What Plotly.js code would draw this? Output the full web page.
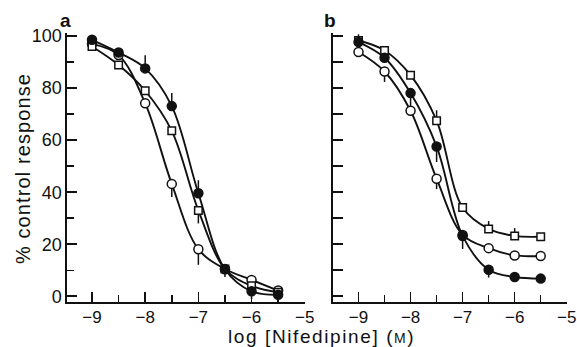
<!DOCTYPE html>
<html><head><meta charset="utf-8">
<script src="https://cdn.plot.ly/plotly-3.0.1.min.js"></script>
<style>body{margin:0;background:#fff}#c{width:577px;height:347px}</style>
</head><body><div id="c"></div>
<script>
const logConc = [-9, -8.5, -8, -7.5, -7, -6.5, -6, -5.5];

// Panel a
const aFilled = [98.6, 93.7, 87.6, 73.1, 39.6, 10.4, 1.9, 0.6];
const aFilledErrUp = [0, 0, 5, 5, 5, 2, 0, 0];
const aFilledErrDn = [0, 0, 0, 0, 0, 3, 3, 0];
const aSquare = [96, 88.9, 79, 63.6, 33, 10.5, 4, 1.5];
const aSquareErrUp = [0, 0, 0, 0, 0, 0, 0, 0];
const aSquareErrDn = [0, 0, 0, 0, 5, 0, 0, 0];
const aOpen = [97, 92.7, 74.2, 43.2, 18.1, 10.5, 6.3, 2.2];
const aOpenErrUp = [0, 0, 0, 0, 0, 0, 0, 0];
const aOpenErrDn = [0, 0, 0, 5, 6, 0, 0, 0];

// Panel b
const bFilled = [97.7, 91.7, 78.1, 57.6, 23.2, 10.2, 7.4, 6.8];
const bFilledErrUp = [3, 0, 0, 0, 0, 0, 0, 0];
const bFilledErrDn = [0, 0, 5, 6, 5, 3, 0, 0];
const bSquare = [98.3, 94.5, 85, 67.5, 34.1, 25.9, 23.2, 22.9];
const bSquareErrUp = [0, 0, 0, 4, 0, 3, 3, 0];
const bSquareErrDn = [0, 0, 0, 0, 0, 0, 0, 0];
const bOpen = [93.9, 86.4, 71.3, 45.2, 23.6, 18.5, 15.7, 15.5];
const bOpenErrUp = [0, 0, 0, 0, 0, 0, 0, 0];
const bOpenErrDn = [0, 4, 0, 4, 0, 0, 0, 0];

const xTickVals = [-9, -8, -7, -6, -5];

function tr(y, up, dn, sym, fill, xa, ya) {
  return {
    x: logConc, y: y, xaxis: xa, yaxis: ya, type: 'scatter', mode: 'lines+markers',
    line: {color: '#111', width: 1.9, shape: 'spline', smoothing: 1.0},
    marker: {symbol: sym, size: sym === 'square' ? 7.5 : 9, color: fill, line: {color: '#111', width: 1.5}},
    error_y: {type: 'data', symmetric: false, array: up, arrayminus: dn, color: '#111', thickness: 1.5, width: 0},
    cliponaxis: false, showlegend: false
  };
}

const data = [
  tr(aOpen, aOpenErrUp, aOpenErrDn, 'circle', '#fff', 'x', 'y'),
  tr(aSquare, aSquareErrUp, aSquareErrDn, 'square', '#fff', 'x', 'y'),
  tr(aFilled, aFilledErrUp, aFilledErrDn, 'circle', '#111', 'x', 'y'),
  tr(bOpen, bOpenErrUp, bOpenErrDn, 'circle', '#fff', 'x2', 'y2'),
  tr(bSquare, bSquareErrUp, bSquareErrDn, 'square', '#fff', 'x2', 'y2'),
  tr(bFilled, bFilledErrUp, bFilledErrDn, 'circle', '#111', 'x2', 'y2')
];

const fam = 'Liberation Sans, Arial, sans-serif';
const tickFont = {family: fam, size: 17, color: '#111'};
const yTickFont = {family: fam, size: 18, color: '#111'};
const titleFont = {family: fam, size: 19, color: '#111'};
function xax(dom, rng, anchor) {
  return {domain: dom, range: rng, anchor: anchor, showgrid: false, zeroline: false,
    showline: true, linecolor: '#111', linewidth: 1.6,
    tickmode: 'array', tickvals: xTickVals, ticks: 'inside', ticklen: 10, tickwidth: 1.6, tickcolor: '#111',
    minor: {tickmode: 'linear', tick0: -9.5, dtick: 0.5, ticks: 'inside', ticklen: 7, tickwidth: 1.5, tickcolor: '#111'},
    ticklabeloverflow: 'allow', ticklabelstandoff: -1, tickfont: tickFont};
}
function yax(anchor, labels, dt) {
  return {domain: [0, 1], range: [-2.2, 101.2], anchor: anchor, showgrid: false, zeroline: false,
    showline: true, linecolor: '#111', linewidth: 1.6,
    tickmode: 'linear', tick0: 0, dtick: dt, ticks: 'inside', ticklen: 10, tickwidth: 1.6, tickcolor: '#111',
    minor: labels ? {tickmode: 'linear', tick0: 0, dtick: 10, ticks: 'inside', ticklen: 7, tickwidth: 1.5, tickcolor: '#111'} : undefined,
    showticklabels: labels, tickfont: yTickFont};
}

const layout = {
  width: 577, height: 347, paper_bgcolor: '#fff', plot_bgcolor: 'rgba(0,0,0,0)',
  margin: {l: 67, r: 10, t: 33, b: 45},
  font: tickFont,
  xaxis: xax([0, 0.476], [-9.47, -4.995], 'y'),
  yaxis: yax('x', true, 20),
  xaxis2: xax([0.532, 1], [-9.49, -4.995], 'y2'),
  yaxis2: yax('x2', false, 10),
  annotations: [
    {text: 'a', xref: 'paper', yref: 'paper', x: -0.004, y: 1.048, showarrow: false, font: {family: fam, size: 19, color: '#111', weight: 'bold'}, xanchor: 'center', yanchor: 'middle'},
    {text: 'b', xref: 'paper', yref: 'paper', x: 0.526, y: 1.048, showarrow: false, font: {family: fam, size: 19, color: '#111', weight: 'bold'}, xanchor: 'center', yanchor: 'middle'},
    {text: 'log [Nifedipine] (<span style="font-size:14px">M</span>)', xref: 'paper', yref: 'paper', x: 0.508, y: -0.13, showarrow: false, font: titleFont, xanchor: 'center', yanchor: 'middle'},
    {text: '% control response', xref: 'paper', yref: 'paper', x: -0.088, y: 0.494, textangle: -90, showarrow: false, font: {family: fam, size: 20, color: '#111'}, xanchor: 'center', yanchor: 'middle'}
  ]
};

Plotly.newPlot('c', data, layout, {displayModeBar: false, staticPlot: true}).then(function () {
  document.querySelectorAll('#c .annotation-text').forEach(function (t) {
    const s = t.textContent;
    if (s.indexOf('Nifedipine') >= 0) t.style.letterSpacing = '1.6px';
    if (s.indexOf('control') >= 0) t.style.letterSpacing = '1.1px';
  });
});
</script></body></html>
